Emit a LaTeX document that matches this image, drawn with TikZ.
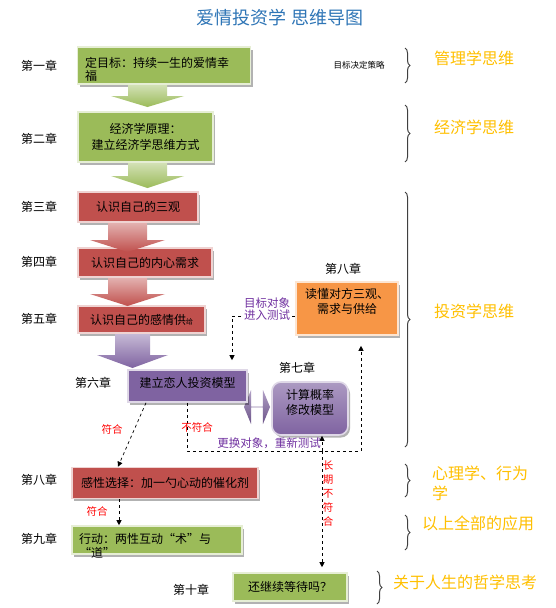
\documentclass[tikz,border=0pt]{standalone}
\usepackage{fontspec}
\setmainfont{Noto Sans CJK SC}
\usetikzlibrary{shadows,decorations.pathreplacing,arrows.meta,shapes.arrows}
\definecolor{gfill}{HTML}{9BBB59}
\definecolor{rfill}{HTML}{C0504D}
\definecolor{pfill}{HTML}{7F63A1}
\definecolor{ofill}{HTML}{F79646}
\definecolor{titleblue}{HTML}{2E75B6}
\definecolor{gold}{HTML}{FFC000}
\definecolor{lblpurple}{HTML}{7030A0}
\definecolor{bracegray}{HTML}{404040}
\begin{document}
\begin{tikzpicture}[x=1pt,y=-1pt,
  box/.style={draw=#1!25!white, line width=1.6pt, fill=#1, inner sep=2pt,
    drop shadow={shadow xshift=2pt,shadow yshift=-2.5pt,fill=black,opacity=.3},
    font=\fontsize{12}{16}\selectfont},
  btext/.style={font=\fontsize{12}{13}\selectfont, inner sep=0pt},
  chap/.style={font=\fontsize{12}{14}\selectfont},
  rlabel/.style={text=gold, font=\fontsize{16}{20}\selectfont},
  redlbl/.style={text=red, font=\fontsize{10.5}{14}\selectfont},
  purlbl/.style={text=lblpurple, font=\fontsize{11.5}{12}\selectfont},
  dashconn/.style={draw=black, dashed, line width=0.7pt, -{Triangle[length=5pt,width=5pt]}},
  rbrace/.style={draw=bracegray, line width=1pt, decorate, decoration={brace, amplitude=5pt}},
]
\useasboundingbox[fill=white] (0,0) rectangle (556,608);

% title
\node[text=titleblue, font=\fontsize{18}{20}\selectfont] (title) at (280,17.5) {爱情投资学 思维导图};

% chapter labels
\node[chap] (c1) at (39,66) {第一章};
\node[chap] (c2) at (39,139) {第二章};
\node[chap] (c3) at (39,207) {第三章};
\node[chap] (c4) at (39,262) {第四章};
\node[chap] (c5) at (39,319) {第五章};
\node[chap] (c6) at (93,383) {第六章};
\node[chap] (c7) at (297,368) {第七章};
\node[chap] (c8a) at (343,269) {第八章};
\node[chap] (c8b) at (39,480) {第八章};
\node[chap] (c9) at (39,539) {第九章};
\node[chap] (c10) at (191,590) {第十章};

% small double arrow between model boxes
\node[double arrow, top color=pfill!60!white, bottom color=pfill!85!black, minimum height=26pt, minimum width=34pt,
      double arrow head extend=8pt, double arrow tip angle=135, inner sep=0pt] (da) at (257,407) {};

% boxes
\node[box=gfill, minimum width=173pt, minimum height=37pt] (b1) at (164,65.5) {};
\node[btext, anchor=north west, align=left] (t1) at (85,57.5) {定目标：持续一生的爱情幸\\福};
\node[box=gfill, minimum width=135pt, minimum height=50pt, align=center] (b2) at (145.5,137) {经济学原理：\\建立经济学思维方式};
\node[box=rfill, minimum width=120pt, minimum height=30pt] (b3) at (138,207) {认识自己的三观};
\node[box=rfill, minimum width=134pt, minimum height=29pt] (b4) at (145,262.5) {认识自己的内心需求};
\node[box=rfill, minimum width=127pt, minimum height=27pt] (b5) at (141.5,319.5) {认识自己的感情供{\fontsize{7}{8}\selectfont 给}};
\node[box=pfill, minimum width=119pt, minimum height=32pt] (b6) at (187.5,386) {};
\node[btext] (t6) at (187.5,382.5) {建立恋人投资模型};
\node[box=pfill, minimum width=76pt, minimum height=53pt, rounded corners=9pt,
      top color=pfill!65!white, bottom color=pfill] (b7) at (310,408.5) {};
\node[btext, align=center, font=\fontsize{12}{15}\selectfont] (t7) at (310,402.5) {计算概率\\修改模型};
\node[box=ofill, minimum width=102pt, minimum height=53pt] (b8) at (347,308.5) {};
\node[btext, align=center, font=\fontsize{12}{15}\selectfont] (t8) at (347,301.5) {读懂对方三观、\\需求与供给};
\node[box=rfill, minimum width=186pt, minimum height=31pt] (b9) at (165,483) {感性选择：加一勺心动的催化剂};
\node[box=gfill, minimum width=170pt, minimum height=28pt] (b10) at (157,540) {};
\node[btext, anchor=north west, align=left, font=\fontsize{12}{14}\selectfont] (t10) at (79,533) {行动：两性互动“术”与\\“道”};
\node[box=gfill, minimum width=114pt, minimum height=28pt] (b11) at (290,587) {还继续等待吗？};

% block arrows
\path[top color=gfill!45!white, bottom color=gfill] (128,85) -- (167,85) -- (167,96) -- (184,96) -- (147.5,107) -- (111,96) -- (128,96) -- cycle;
\path[top color=gfill!45!white, bottom color=gfill] (128,163) -- (167,163) -- (167,176) -- (184,176) -- (147.5,188) -- (111,176) -- (128,176) -- cycle;
\path[top color=rfill!45!white, bottom color=rfill] (108,223) -- (147,223) -- (147,240) -- (165,240) -- (127.5,252) -- (90,240) -- (108,240) -- cycle;
\path[top color=rfill!45!white, bottom color=rfill] (108,278) -- (147,278) -- (147,294) -- (165,294) -- (127.5,306) -- (90,294) -- (108,294) -- cycle;
\path[top color=pfill!45!white, bottom color=pfill] (115,334) -- (150,334) -- (150,355) -- (168,355) -- (132.5,368) -- (97,355) -- (115,355) -- cycle;

% dashed connectors
\coordinate (k1) at (232,316);
\draw[dashconn, shorten >=9pt] ([yshift=-7.5pt]b8.west) -- (k1) -- (k1 |- b6.north);
\coordinate (h1) at (187.5,451);
\coordinate (h2) at (361,451);
\draw[dashconn, shorten >=10pt] (b6.south) -- (h1) -- (h2) -- (h2 |- b8.south);
\coordinate (h3) at (322,451);
\draw[dashconn] (h3) -- (h3 |- b7.south);
\draw[dashconn, shorten >=5pt] (h3) -- (h3 |- b11.north);
\draw[dashconn] ([xshift=-41.5pt]b6.south) -- ([xshift=-47pt]b9.north);
\draw[dashconn] ([xshift=-46pt]b9.south) -- ([xshift=-38pt]b10.north);

% connector labels
\node[purlbl, align=center, fill=white, inner sep=1pt] (l1) at (267,309) {目标对象\\进入测试};
\node[purlbl] (l2) at (269,443) {更换对象，重新测试};
\node[redlbl] (l3) at (112,429) {符合};
\node[redlbl] (l4) at (197,427) {不符合};
\node[redlbl] (l5) at (97,511) {符合};
\node[redlbl, align=center, inner sep=0pt] (l6) at (328,494) {长\\期\\不\\符\\合};
\node[font=\fontsize{8.5}{10}\selectfont] (l7) at (359,65) {目标决定策略};

% braces
\draw[rbrace] (405,48) -- (405,83);
\draw[rbrace] (405,105) -- (405,162);
\draw[rbrace] (405,192) -- (405,447);
\draw[rbrace] (405,464) -- (405,497);
\draw[rbrace] (405,515) -- (405,550);
\draw[rbrace] (377,571) -- (377,604);

\node[rlabel] (r1) at (474,58) {管理学思维};
\node[rlabel] (r2) at (474,127) {经济学思维};
\node[rlabel] (r3) at (474,311) {投资学思维};
\node[rlabel, anchor=west, align=left, inner sep=0pt] (r4) at (432,483.5) {心理学、行为\\学};
\node[rlabel] (r5) at (478,523) {以上全部的应用};
\node[rlabel] (r6) at (465,582) {关于人生的哲学思考};
\end{tikzpicture}
\end{document}
